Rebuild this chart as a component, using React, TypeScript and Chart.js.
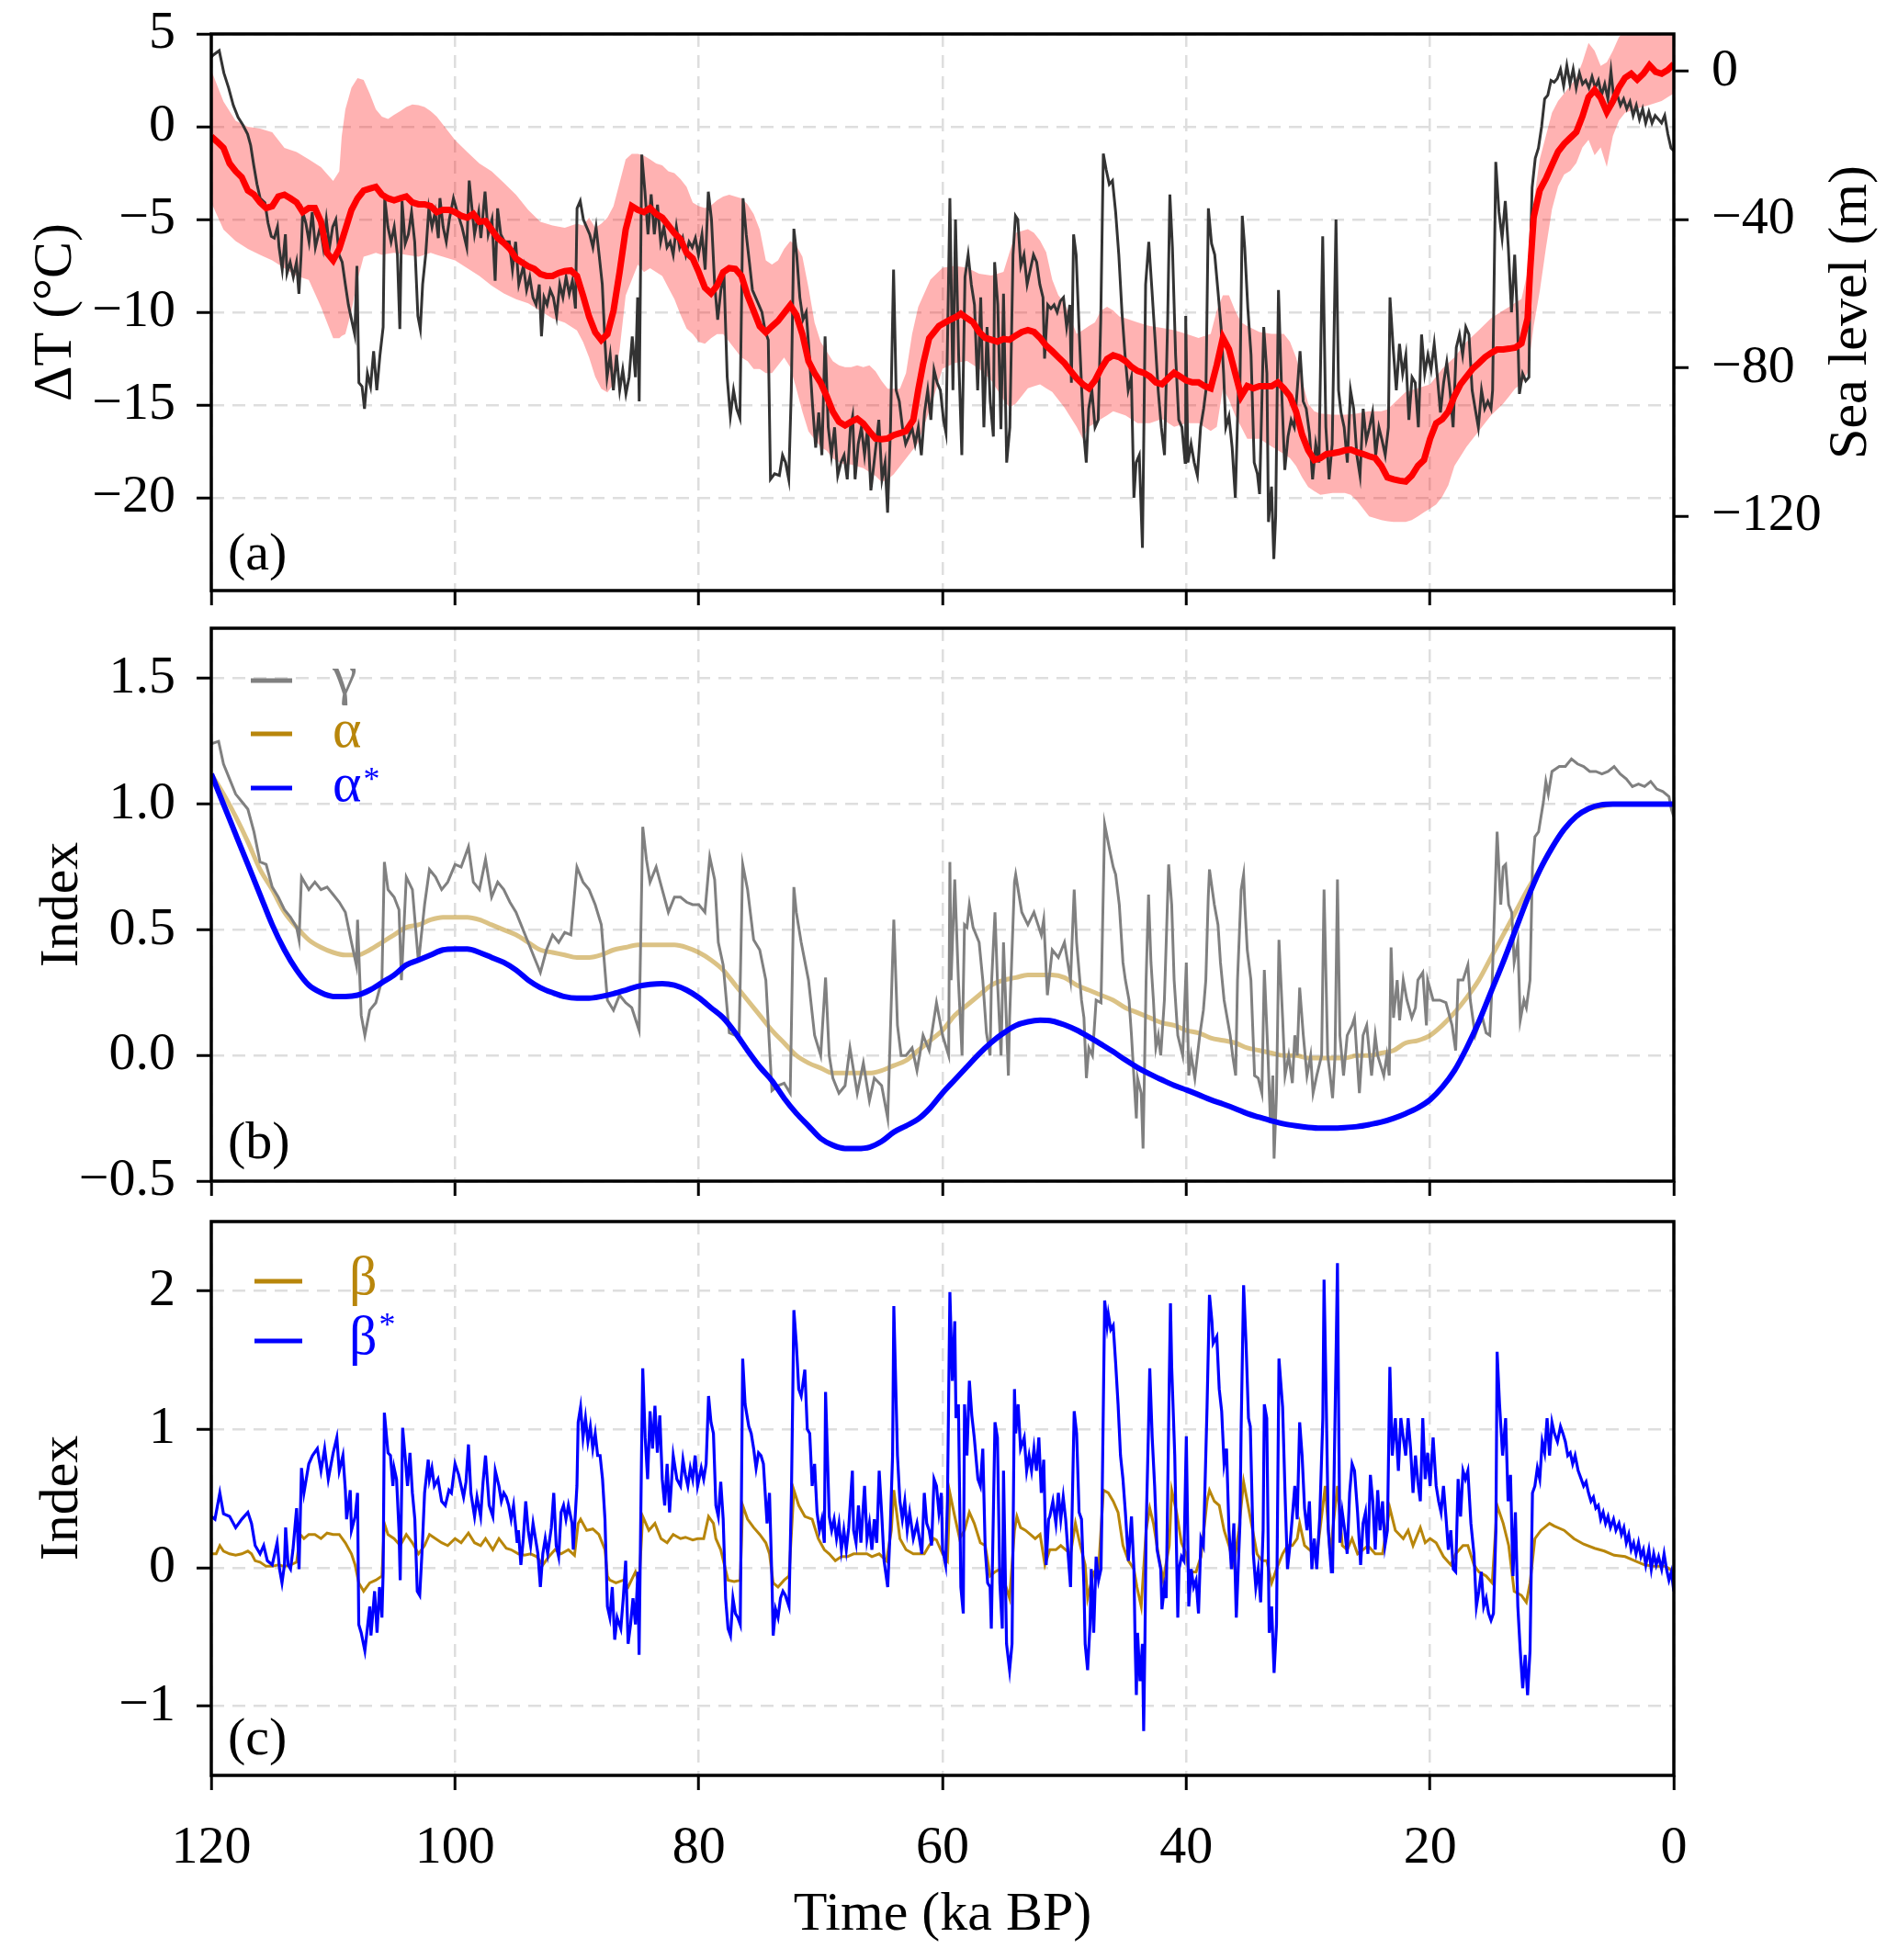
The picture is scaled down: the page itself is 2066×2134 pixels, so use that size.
import { useEffect, useRef } from "react"
import { Chart, registerables } from "chart.js"

Chart.register(...registerables)

const W = 2066
const SERIF = "'Liberation Serif', 'Times New Roman', 'DejaVu Serif', serif"
const GRID = "#dedede"
const DASH = [14, 9]

// tick values
const timeTicks = [120, 100, 80, 60, 40, 20, 0]
const tempTicks = [5, 0, -5, -10, -15, -20]
const seaTicks = [0, -40, -80, -120]
const indexTicksB = [-0.5, 0, 0.5, 1, 1.5]
const indexTicksC = [-1, 0, 1, 2]

// (a) temperature anomaly, [ka BP, °C]
const deltaT = [
  [120, 3.75], [119.87, 3.85], [119.35, 4.1], [118.97, 2.9], [118.58, 2.1], [118.19, 1.15], [117.8, 0.5], [117.41, 0.1],
  [117.02, -0.4], [116.77, -1.0], [116.51, -2.1], [116.25, -3.1], [115.99, -3.85], [115.6, -4.1], [115.34, -5.2], [115.08, -5.9],
  [114.83, -6.0], [114.57, -5.4], [114.44, -6.5], [114.18, -7.7], [113.92, -5.8], [113.79, -7.9], [113.53, -7.3], [113.27, -8.1],
  [113.01, -7.3], [112.81, -9.0], [112.63, -6.9], [112.5, -4.6], [112.24, -5.2], [111.98, -6.2], [111.72, -4.6], [111.46, -6.5],
  [111.07, -5.4], [110.81, -6.5], [110.56, -5.0], [110.3, -6.5], [110.04, -5.4], [109.78, -5.0], [109.52, -6.9], [109.26, -7.3],
  [109.0, -8.5], [108.75, -9.6], [108.49, -10.4], [108.23, -11.2], [108.05, -7.5], [107.89, -13.8], [107.63, -14.0],
  [107.43, -15.2], [107.19, -13.3], [106.93, -14.0], [106.68, -12.1], [106.42, -14.2], [106.16, -12.3], [105.9, -10.8],
  [105.77, -3.85], [105.51, -5.4], [105.25, -6.2], [104.99, -5.4], [104.73, -6.9], [104.53, -10.9], [104.35, -4.0], [104.09, -6.3],
  [103.83, -5.8], [103.57, -4.6], [103.31, -6.2], [103.05, -10.2], [102.85, -10.9], [102.66, -8.5], [102.41, -6.9], [102.15, -4.4],
  [101.89, -5.4], [101.63, -4.6], [101.37, -6.0], [101.24, -3.85], [100.98, -5.4], [100.72, -6.2], [100.47, -5.0], [100.13, -3.85],
  [99.82, -4.6], [99.43, -5.4], [99.04, -6.5], [98.84, -2.9], [98.58, -4.6], [98.4, -5.8], [98.06, -4.6], [97.88, -6.0],
  [97.54, -3.5], [97.28, -5.8], [96.97, -5.0], [96.71, -8.3], [96.51, -4.4], [96.25, -5.8], [95.94, -6.2], [95.55, -6.2],
  [95.29, -7.7], [95.03, -6.2], [94.77, -8.5], [94.39, -7.5], [94.13, -8.8], [93.87, -8.1], [93.61, -9.2], [93.35, -9.6],
  [93.09, -8.5], [92.91, -11.3], [92.7, -9.2], [92.45, -9.6], [92.19, -8.8], [91.93, -9.2], [91.67, -10.2], [91.41, -8.5],
  [91.15, -9.2], [90.89, -8.1], [90.63, -9.0], [90.37, -8.3], [90.12, -9.8], [89.99, -4.4], [89.73, -4.0], [89.47, -5.0],
  [89.21, -5.4], [88.95, -5.8], [88.69, -6.5], [88.43, -5.4], [88.18, -6.9], [87.92, -8.5], [87.71, -11.5], [87.53, -13.5],
  [87.27, -12.3], [87.01, -14.2], [86.75, -12.3], [86.49, -14.2], [86.24, -13.1], [85.98, -14.4], [85.72, -13.5], [85.46, -11.3],
  [85.2, -13.5], [85.02, -9.2], [84.89, -14.8], [84.68, -1.5], [84.42, -3.5], [84.17, -5.8], [83.91, -3.65], [83.65, -5.8],
  [83.39, -4.2], [83.13, -6.2], [82.87, -5.4], [82.61, -6.5], [82.35, -6.2], [82.1, -6.9], [81.84, -5.4], [81.58, -6.5],
  [81.32, -6.0], [81.06, -6.9], [80.8, -6.2], [80.54, -6.5], [80.28, -6.0], [80.03, -6.9], [79.74, -5.8], [79.48, -7.7],
  [79.22, -3.5], [78.96, -5.0], [78.7, -8.5], [78.45, -10.4], [78.19, -8.8], [77.93, -8.1], [77.67, -13.5], [77.41, -15.6],
  [77.15, -14.2], [76.89, -15.2], [76.63, -15.7], [76.37, -3.85], [76.11, -5.8], [75.85, -7.3], [75.6, -8.8], [75.34, -9.2],
  [75.08, -9.6], [74.82, -10.0], [74.56, -11.0], [74.3, -11.5], [74.12, -19.0], [73.78, -18.7], [73.39, -18.8], [73.13, -17.7],
  [72.88, -18.1], [72.62, -19.0], [72.41, -14.2], [72.2, -5.5], [71.97, -6.9], [71.71, -9.2], [71.45, -10.4], [71.19, -10.0],
  [70.93, -12.3], [70.67, -15.0], [70.41, -17.3], [70.16, -15.4], [69.9, -17.7], [69.64, -11.3], [69.38, -16.2], [69.12, -17.7],
  [68.86, -16.2], [68.6, -18.8], [68.34, -18.1], [68.08, -17.7], [67.82, -19.0], [67.56, -16.2], [67.38, -15.6], [67.18, -19.0],
  [66.92, -17.1], [66.66, -16.2], [66.4, -17.7], [66.14, -16.2], [65.88, -19.6], [65.62, -18.1], [65.23, -15.8], [64.97, -19.0],
  [64.72, -18.1], [64.51, -20.8], [64.27, -16.2], [64.02, -7.7], [63.81, -14.2], [63.55, -14.8], [63.29, -16.2], [63.03, -17.1],
  [62.77, -16.7], [62.51, -16.2], [62.25, -17.1], [61.99, -16.2], [61.74, -17.7], [61.48, -15.4], [61.22, -14.2], [60.96, -15.8],
  [60.7, -13.1], [60.44, -13.8], [60.18, -14.2], [59.92, -15.8], [59.72, -16.5], [59.4, -3.85], [59.15, -14.2], [58.94, -5.0],
  [58.68, -12.3], [58.42, -17.7], [58.16, -8.1], [57.9, -6.9], [57.64, -8.5], [57.38, -9.6], [57.12, -14.2], [56.87, -9.2],
  [56.61, -16.2], [56.35, -10.8], [56.09, -14.8], [55.83, -16.7], [55.73, -7.3], [55.47, -9.6], [55.21, -16.3], [55.0, -9.0],
  [54.74, -18.1], [54.48, -16.2], [54.22, -6.9], [54.02, -4.8], [53.83, -5.0], [53.58, -7.5], [53.32, -6.9], [53.06, -8.5],
  [52.8, -7.7], [52.54, -6.9], [52.28, -7.3], [52.02, -8.5], [51.76, -9.2], [51.63, -12.5], [51.37, -9.6], [51.11, -9.8],
  [50.85, -9.6], [50.6, -10.0], [50.34, -9.4], [50.08, -9.2], [49.82, -10.8], [49.56, -9.6], [49.43, -13.8], [49.25, -5.8],
  [49.04, -6.9], [48.78, -11.2], [48.58, -14.2], [48.39, -16.7], [48.21, -18.1], [48.01, -15.2], [47.75, -14.2], [47.49, -16.2],
  [47.23, -15.8], [47.02, -10.4], [46.81, -1.45], [46.58, -2.3], [46.32, -3.1], [46.06, -2.9], [45.8, -4.6], [45.54, -6.9],
  [45.28, -10.0], [45.03, -12.3], [44.77, -14.2], [44.51, -13.5], [44.3, -20.0], [44.12, -18.1], [43.86, -17.7], [43.6, -22.7],
  [43.34, -8.5], [43.08, -6.2], [42.82, -8.8], [42.56, -11.5], [42.31, -14.2], [42.05, -16.2], [41.79, -17.7], [41.53, -10.4],
  [41.35, -3.65], [41.14, -6.5], [40.88, -12.3], [40.62, -15.8], [40.36, -16.2], [40.1, -18.1], [40.05, -10.2], [39.87, -18.1],
  [39.61, -17.1], [39.35, -18.1], [39.09, -18.8], [38.83, -16.2], [38.58, -15.2], [38.39, -14.2], [38.19, -4.4], [37.93, -6.3],
  [37.67, -6.9], [37.41, -8.8], [37.15, -10.8], [36.94, -13.3], [36.76, -16.2], [36.5, -15.6], [36.24, -17.3], [35.98, -20.0],
  [35.73, -14.2], [35.6, -14.0], [35.41, -4.8], [35.21, -6.5], [34.95, -9.8], [34.69, -12.3], [34.43, -18.1], [34.17, -18.7],
  [33.99, -19.8], [33.65, -10.8], [33.39, -13.3], [33.26, -21.3], [33.01, -19.4], [32.82, -23.3], [32.67, -21.0], [32.44, -8.8],
  [32.18, -14.2], [31.92, -18.5], [31.66, -16.7], [31.4, -15.8], [31.14, -16.2], [30.88, -14.0], [30.67, -12.1], [30.41, -14.8],
  [30.16, -15.2], [29.9, -16.5], [29.64, -19.0], [29.38, -17.1], [29.12, -18.1], [28.81, -5.9], [28.55, -16.2], [28.29, -19.0],
  [28.03, -17.1], [27.72, -5.0], [27.51, -14.2], [27.31, -15.4], [27.05, -16.2], [26.79, -18.1], [26.53, -14.2], [26.27, -15.2],
  [26.01, -17.7], [25.75, -18.8], [25.49, -15.2], [25.23, -16.9], [24.97, -16.2], [24.72, -15.4], [24.46, -17.7], [24.2, -16.2],
  [23.94, -16.9], [23.68, -17.7], [23.42, -16.2], [23.29, -9.2], [23.03, -11.9], [22.77, -14.2], [22.51, -11.7], [22.25, -13.3],
  [21.99, -12.3], [21.74, -15.8], [21.48, -13.5], [21.22, -13.8], [20.96, -16.2], [20.7, -11.2], [20.44, -13.3], [20.18, -12.3],
  [19.92, -13.1], [19.66, -11.7], [19.4, -13.5], [19.15, -15.4], [18.89, -13.8], [18.63, -12.7], [18.37, -14.2], [18.11, -16.2],
  [17.85, -11.9], [17.59, -11.2], [17.33, -12.3], [17.07, -10.8], [16.81, -11.2], [16.55, -14.2], [16.3, -15.2], [16.04, -16.2],
  [15.78, -14.2], [15.52, -15.2], [15.26, -14.8], [15.0, -15.2], [14.87, -14.2], [14.61, -1.9], [14.35, -4.6], [14.09, -6.0],
  [13.83, -4.0], [13.58, -6.5], [13.32, -10.0], [13.06, -6.9], [12.85, -10.0], [12.67, -14.4], [12.41, -13.3], [12.15, -13.7],
  [11.89, -13.5], [11.76, -6.5], [11.63, -3.3], [11.37, -1.7], [11.11, -1.15], [10.85, 0.0], [10.6, 1.5], [10.34, 1.7],
  [10.08, 2.5], [9.82, 2.4], [9.56, 2.6], [9.3, 3.1], [9.04, 2.2], [8.78, 3.3], [8.52, 2.3], [8.26, 3.1], [8.01, 2.1], [7.75, 2.9],
  [7.49, 2.3], [7.23, 2.5], [6.97, 2.1], [6.71, 2.7], [6.45, 2.1], [6.19, 2.5], [5.93, 1.7], [5.67, 2.3], [5.41, 1.5], [5.16, 3.0],
  [4.9, 1.35], [4.64, 1.7], [4.38, 1.15], [4.12, 1.5], [3.86, 0.96], [3.6, 1.35], [3.34, 0.6], [3.08, 1.15], [2.82, 0.4],
  [2.56, 0.96], [2.31, 0.2], [2.05, 0.8], [1.79, 0.2], [1.53, 0.6], [1.26, 0.4], [1.01, 0.2], [0.75, 0.6], [0.49, -0.4],
  [0.23, -1.15], [0, -1.3],
]

// (a) sea level, [ka BP, m]
const seaLevel = [
  [120, -17.6], [119.5, -19.1], [119, -20.7], [118.5, -24.9], [118, -27.0], [117.5, -28.6], [117, -32.2], [116.5, -33.3],
  [116, -35.4], [115.5, -36.9], [115, -36.4], [114.5, -33.8], [114, -33.3], [113.5, -34.3], [113, -35.4], [112.5, -38.0],
  [112, -36.9], [111.5, -36.9], [111, -40.6], [110.5, -49.0], [110, -51.0], [109.5, -47.9], [109, -42.7], [108.5, -37.4],
  [108, -34.3], [107.5, -32.2], [107, -31.7], [106.5, -31.2], [106, -33.3], [105.5, -34.3], [105, -34.8], [104.5, -34.3],
  [104, -33.8], [103.5, -35.4], [103, -35.9], [102.5, -35.9], [102, -36.4], [101.5, -38.0], [101, -37.4], [100.5, -37.4],
  [100, -38.0], [99.5, -39.0], [99, -39.5], [98.5, -38.5], [98, -40.6], [97.5, -40.4], [97, -42.7], [96.5, -45.0], [96, -46.3],
  [95.5, -47.9], [95, -50.5], [94.5, -51.6], [94, -52.6], [93.5, -53.3], [93, -54.7], [92.5, -55.2], [92, -55.2], [91.5, -54.4],
  [91, -53.9], [90.5, -53.7], [90, -55.2], [89.5, -60.5], [89, -66.2], [88.5, -70.4], [88, -72.5], [87.5, -70.9], [87, -64.6],
  [86.5, -54.2], [86, -42.7], [85.5, -36.4], [85, -37.4], [84.5, -38.0], [84, -36.9], [83.5, -38.5], [83, -39.5], [82.5, -41.6],
  [82, -43.7], [81.5, -45.3], [81, -49.0], [80.5, -50.5], [80, -54.2], [79.5, -58.4], [79, -59.9], [78.5, -57.8], [78, -54.2],
  [77.5, -53.1], [77, -53.3], [76.5, -55.2], [76, -60.5], [75.5, -64.6], [75, -68.8], [74.5, -70.4], [74, -68.8], [73.5, -67.3],
  [73, -65.2], [72.5, -63.1], [72, -65.7], [71.5, -70.9], [71, -78.2], [70.5, -81.4], [70, -84.0], [69.5, -87.7], [69, -91.8],
  [68.5, -94.5], [68, -95.5], [67.5, -94.5], [67, -93.7], [66.5, -95.0], [66, -97.1], [65.5, -99.0], [65, -99.2], [64.5, -99.0],
  [64, -98.1], [63.5, -97.6], [63, -97.0], [62.4, -94.0], [62, -86.0], [61.6, -79.0], [61.1, -72.0], [60.3, -68.7], [59.5, -67.2],
  [58.8, -66.1], [58.5, -65.4], [58, -66.6], [57.5, -67.7], [57, -70.3], [56.5, -71.9], [56, -72.4], [55.5, -72.9], [55, -72.2],
  [54.5, -72.4], [54, -71.3], [53.5, -70.3], [53, -69.8], [52.5, -70.3], [52, -71.9], [51.5, -74.0], [51, -75.5], [50.5, -77.1],
  [50, -78.7], [49.5, -80.8], [49, -82.8], [48.5, -84.4], [48, -85.5], [47.5, -83.4], [47, -80.2], [46.5, -77.6], [46, -76.6],
  [45.5, -77.1], [45, -78.1], [44.5, -79.7], [44, -80.8], [43.5, -81.3], [43, -82.3], [42.5, -83.9], [42, -84.4], [41.5, -82.8],
  [41, -81.3], [40.5, -82.3], [40, -83.4], [39.5, -83.9], [39, -83.9], [38.5, -84.9], [38, -85.5], [37.5, -79.2], [37, -71.9],
  [36.5, -75.0], [36, -81.3], [35.5, -87.6], [35, -84.9], [34.5, -85.5], [34, -84.9], [33.5, -84.9], [33, -84.9], [32.5, -83.9],
  [32, -85.5], [31.5, -87.6], [31, -91.7], [30.5, -98.0], [30, -102.2], [29.5, -104.8], [29, -104.3], [28.5, -103.2],
  [28, -103.0], [27.5, -102.7], [27, -102.2], [26.5, -102.0], [26, -102.7], [25.5, -103.2], [25, -103.8], [24.5, -104.3],
  [24, -106.4], [23.5, -109.5], [23, -110.0], [22.5, -110.4], [22, -110.6], [21.5, -109.0], [21, -106.4], [20.5, -104.8],
  [20, -99.1], [19.5, -94.9], [19, -93.8], [18.5, -91.7], [18, -87.6], [17.5, -84.4], [17, -82.3], [16.5, -80.2], [16, -78.7],
  [15.5, -77.1], [15, -76.0], [14.5, -75.0], [14, -75.0], [13.5, -74.8], [13, -74.5], [12.5, -73.4], [12, -66.6], [11.8, -54.1],
  [11.5, -39.4], [11, -32.1], [10.5, -29.0], [10, -25.3], [9.5, -21.7], [9, -19.6], [8.5, -18.0], [8, -16.4], [7.5, -12.2],
  [7, -7.0], [6.5, -5.1], [6, -7.2], [5.5, -11.0], [5, -8.1], [4.5, -4.4], [4, -1.8], [3.5, -0.7], [3, -2.3], [2.5, -0.7],
  [2, 1.6], [1.5, -0.2], [1, -0.7], [0.5, 0.3], [0, 1.9],
]

// (a) sea-level uncertainty, [ka BP, upper m, lower m]
const seaBand = [
  [120, 0.2, -35.4], [119, -8.2, -42.7], [118, -13.4, -45.8], [117, -15.0, -47.9], [116, -15.5, -49.5], [115, -16.5, -51.0],
  [114, -20.7, -53.1], [113, -21.8, -55.2], [112, -23.8, -56.3], [111, -25.9, -63.6], [110, -29.6, -72.0], [109.5, -27.0, -72.0],
  [109.3, -17.6, -71.4], [109, -10.3, -70.9], [108.5, -4.5, -64.6], [108, -1.9, -56.3], [107.5, -2.4, -50.0], [107, -6.1, -49.5],
  [106.5, -10.3, -49.0], [106, -12.3, -49.5], [105.5, -12.9, -49.2], [105, -11.8, -49.0], [104.5, -10.8, -49.2], [104, -9.7, -49.5],
  [103.5, -9.0, -49.8], [103, -9.2, -50.0], [102.5, -9.7, -49.5], [102, -10.8, -49.0], [101.5, -12.3, -49.5], [101, -14.4, -50.0],
  [100.5, -16.5, -50.5], [100, -18.6, -51.0], [99, -21.8, -53.1], [98, -24.9, -55.2], [97, -27.0, -57.8], [96, -30.1, -59.9],
  [95, -33.3, -61.5], [94, -37.4, -62.6], [93, -40.6, -64.6], [92, -41.6, -66.7], [91, -42.2, -67.8], [90, -41.1, -69.9],
  [89.5, -41.6, -73.0], [89, -39.5, -77.2], [88.5, -42.2, -82.4], [88, -41.1, -85.6], [87.5, -39.5, -86.6], [87, -36.4, -84.5],
  [86.5, -30.1, -75.1], [86, -23.8, -60.5], [85.5, -22.3, -56.3], [85, -22.3, -52.1], [84.5, -22.8, -54.2], [84, -23.8, -53.1],
  [83.5, -24.9, -54.2], [83, -25.4, -55.2], [82.5, -27.0, -58.4], [82, -27.5, -61.5], [81.5, -29.1, -65.7], [81, -31.2, -69.4],
  [80.5, -35.4, -70.9], [80, -36.4, -73.0], [79.5, -36.9, -73.5], [79, -36.2, -72.0], [78.5, -34.8, -70.9], [78, -33.8, -70.9],
  [77.5, -33.3, -73.0], [77, -33.8, -75.1], [76.5, -34.3, -77.2], [76, -35.9, -78.2], [75.5, -38.5, -80.3], [75, -42.7, -80.3],
  [74.5, -51.0, -81.4], [74, -52.1, -81.4], [73.5, -51.0, -79.3], [73, -47.9, -77.2], [72.5, -45.8, -79.8], [72, -46.9, -85.6],
  [71.5, -50.0, -91.8], [71, -58.4, -97.1], [70.5, -67.8, -99.2], [70, -73.0, -101.3], [69.5, -75.6, -102.3], [69, -78.2, -104.4],
  [68.5, -79.3, -105.4], [68, -79.8, -106.0], [67.5, -79.8, -106.0], [67, -79.3, -106.5], [66.5, -79.8, -107.0], [66, -79.3, -108.1],
  [65.5, -80.9, -109.1], [65, -83.5, -110.7], [64.5, -85.6, -110.1], [64, -85.6, -108.6], [63.5, -85.6, -106.5], [63, -81.4, -104.4],
  [62.5, -70.9, -102.3], [62, -63.6, -100.2], [61, -56.2, -90.7], [60, -53.0, -80.2], [59, -52.5, -78.7], [58, -53.0, -78.1],
  [57, -54.6, -80.2], [56, -55.1, -83.4], [55, -54.1, -88.6], [54.5, -48.8, -90.7], [54, -43.6, -89.6], [53, -42.6, -85.5],
  [52.5, -43.6, -84.9], [52, -45.7, -84.4], [51.5, -48.8, -85.5], [51, -56.2, -86.5], [50.5, -60.4, -88.6], [50, -62.4, -90.7],
  [49.5, -66.6, -93.3], [49, -70.8, -95.9], [48.5, -69.8, -99.1], [48, -68.7, -95.9], [47.5, -67.7, -94.9], [47, -64.5, -93.8],
  [46.5, -63.5, -92.8], [46, -64.5, -91.7], [45.5, -66.1, -92.2], [45, -66.6, -92.8], [44, -67.7, -94.9], [43, -68.7, -94.9],
  [42, -69.2, -93.8], [41, -69.8, -95.9], [40, -70.8, -94.9], [39, -71.9, -94.9], [38, -70.8, -97.0], [37.5, -64.5, -95.9],
  [37, -60.4, -85.5], [36.5, -60.4, -88.6], [36, -64.5, -92.8], [35.5, -67.7, -95.9], [35, -68.7, -99.1], [34, -70.3, -99.1],
  [33, -70.8, -101.2], [32, -70.8, -103.2], [31.5, -72.9, -104.3], [31, -77.1, -106.4], [30.5, -83.4, -109.5], [30, -89.6, -112.1],
  [29.5, -91.7, -113.2], [29, -92.3, -114.2], [28, -92.6, -113.7], [27, -92.6, -113.7], [26.5, -92.5, -114.2], [26, -92.3, -115.8],
  [25.5, -91.9, -117.9], [25, -91.7, -120.0], [24, -91.7, -121.0], [23.5, -91.2, -121.3], [23, -89.6, -121.5], [22, -86.5, -121.5],
  [21.5, -86.0, -121.0], [21, -85.5, -120.0], [20.5, -84.9, -118.9], [20, -84.4, -117.9], [19.5, -82.3, -116.8], [19, -80.2, -114.7],
  [18.5, -78.7, -111.6], [18, -77.1, -106.4], [17, -72.9, -101.2], [16, -69.8, -97.0], [15, -66.6, -92.8], [14, -64.5, -89.6],
  [13.5, -63.5, -87.6], [13, -62.4, -85.5], [12.5, -61.4, -84.4], [12, -54.1, -81.3], [11.5, -35.3, -68.7], [11, -23.7, -59.3],
  [10.5, -17.5, -47.8], [10, -11.2, -37.3], [9.5, -8.1, -31.1], [9, -6.0, -27.9], [8.5, -3.9, -26.9], [8, -1.8, -24.8],
  [7.5, 2.4, -20.6], [7, 7.6, -18.5], [6.5, 5.5, -22.7], [6, 1.4, -20.6], [5.5, 2.4, -25.8], [5, 5.5, -17.5], [4.5, 9.2, -13.3],
  [4, 11, -11.2], [3, 11, -10.1], [2, 11, -9.1], [1, 11, -8.1], [0.5, 11, -7.0], [0, 11, -6.0],
]

// (b) gamma index
const gamma = [
  [120, 1.24], [119.4, 1.25], [119, 1.16], [118.5, 1.1], [118, 1.04], [117.5, 1.01], [117, 0.98], [116.5, 0.89], [116, 0.77],
  [115.5, 0.76], [115, 0.67], [114.5, 0.63], [114, 0.58], [113.5, 0.55], [113, 0.51], [112.8, 0.46], [112.6, 0.71], [112, 0.66],
  [111.5, 0.69], [111, 0.66], [110.5, 0.67], [110, 0.64], [109.5, 0.61], [109, 0.57], [108.5, 0.45], [108.1, 0.36], [108, 0.54],
  [107.7, 0.16], [107.4, 0.08], [107, 0.18], [106.5, 0.21], [106, 0.3], [105.8, 0.77], [105.5, 0.66], [105, 0.63], [104.6, 0.58],
  [104.4, 0.3], [104, 0.71], [103.5, 0.66], [103, 0.37], [102.5, 0.6], [102.1, 0.74], [101.6, 0.71], [101.1, 0.66], [100.6, 0.69],
  [100, 0.76], [99.5, 0.75], [98.9, 0.83], [98.5, 0.69], [98, 0.66], [97.5, 0.78], [97, 0.63], [96.5, 0.69], [96, 0.66],
  [95.5, 0.61], [95, 0.57], [94.5, 0.51], [94, 0.45], [93.5, 0.39], [93, 0.33], [92.5, 0.42], [92, 0.48], [91.5, 0.45], [91, 0.49],
  [90.5, 0.48], [90, 0.75], [89.5, 0.69], [89, 0.66], [88.5, 0.6], [88, 0.52], [87.5, 0.22], [87, 0.18], [86.5, 0.24], [86, 0.21],
  [85.5, 0.19], [84.9, 0.1], [84.6, 0.91], [84.3, 0.78], [84, 0.69], [83.5, 0.75], [83, 0.66], [82.5, 0.57], [82, 0.63],
  [81.5, 0.63], [81, 0.61], [80.5, 0.6], [80, 0.6], [79.5, 0.57], [79.1, 0.79], [78.7, 0.7], [78.4, 0.45], [78, 0.36], [77.5, 0.09],
  [77, 0.08], [76.7, 0.06], [76.4, 0.76], [76, 0.66], [75.5, 0.46], [75, 0.42], [74.5, 0.3], [74, -0.14], [73.5, -0.12],
  [73, -0.11], [72.5, -0.15], [72.2, 0.67], [72, 0.57], [71.6, 0.45], [71, 0.3], [70.5, 0.08], [70, 0.0], [69.6, 0.31],
  [69.3, 0.0], [69, -0.09], [68.5, -0.15], [68, -0.12], [67.6, 0.03], [67, -0.15], [66.5, -0.03], [66, -0.18], [65.6, -0.09],
  [65, -0.12], [64.5, -0.25], [64, 0.54], [63.7, 0.12], [63.4, 0.0], [63, 0.0], [62.5, 0.03], [62.1, -0.06], [61.6, 0.08],
  [61.1, 0.02], [60.5, 0.21], [60, 0.08], [59.5, 0.0], [59.4, 0.77], [59.3, 0.3], [59, 0.7], [58.7, 0.3], [58.4, 0.0], [58.2, 0.52],
  [58, 0.51], [57.8, 0.6], [57.5, 0.51], [57, 0.45], [56.7, 0.3], [56.4, 0.09], [56.1, 0.0], [56, 0.27], [55.7, 0.57], [55.5, 0.3],
  [55.2, 0.0], [55, 0.45], [54.6, -0.08], [54.5, 0.15], [54.1, 0.69], [54, 0.72], [53.5, 0.57], [53, 0.52], [52.5, 0.57],
  [51.9, 0.48], [51.7, 0.54], [51.4, 0.24], [51, 0.42], [50.5, 0.39], [50, 0.45], [49.5, 0.3], [49.2, 0.66], [49, 0.45],
  [48.6, 0.22], [48.4, 0.15], [48.2, -0.09], [48, 0.03], [47.7, 0.0], [47.4, 0.22], [47, 0.21], [46.7, 0.92], [46.5, 0.87],
  [46.3, 0.82], [46, 0.75], [45.8, 0.72], [45.5, 0.6], [45.2, 0.37], [45, 0.3], [44.7, 0.22], [44.5, 0.08], [44.1, -0.25],
  [44, -0.09], [43.7, -0.15], [43.55, -0.37], [43.3, 0.3], [43.1, 0.64], [42.9, 0.37], [42.7, 0.22], [42.5, 0.03], [42.3, 0.08],
  [42.1, 0.0], [41.8, 0.22], [41.65, 0.45], [41.45, 0.76], [41.2, 0.6], [41, 0.3], [40.7, 0.08], [40.3, 0.0], [40, 0.37],
  [39.8, -0.08], [39.6, 0.0], [39.3, -0.09], [38.9, 0.08], [38.6, 0.18], [38.4, 0.3], [38.2, 0.63], [38.1, 0.74], [37.7, 0.6],
  [37.4, 0.52], [37.2, 0.37], [36.9, 0.22], [36.4, 0.08], [36.2, 0.0], [35.95, -0.08], [35.8, 0.3], [35.5, 0.66], [35.3, 0.72],
  [35.2, 0.6], [35, 0.42], [34.7, 0.3], [34.4, -0.08], [34.1, -0.09], [33.8, -0.15], [33.6, 0.34], [33.3, 0.0], [33.1, -0.27],
  [32.9, -0.08], [32.8, -0.41], [32.6, -0.15], [32.4, 0.46], [32.1, 0.15], [31.9, -0.08], [31.6, 0.0], [31.3, -0.11], [31.1, 0.08],
  [30.9, 0.0], [30.7, 0.27], [30.4, 0.08], [30.1, -0.08], [29.8, 0.0], [29.6, -0.15], [29.3, -0.08], [28.9, 0.0], [28.7, 0.66],
  [28.4, 0.0], [28.2, -0.08], [28, -0.17], [27.8, 0.0], [27.6, 0.7], [27.4, 0.08], [27.1, -0.08], [26.8, 0.08], [26.4, 0.12],
  [26.2, 0.15], [25.8, -0.15], [25.5, 0.08], [25.2, 0.12], [24.8, -0.08], [24.5, 0.08], [24.3, 0.0], [23.8, -0.08], [23.55, 0.0],
  [23.35, -0.08], [23.2, 0.43], [23, 0.15], [22.7, 0.3], [22.5, 0.14], [22.2, 0.3], [21.9, 0.22], [21.5, 0.15], [21.2, 0.19],
  [21, 0.3], [20.6, 0.33], [20.3, 0.12], [20.2, 0.3], [19.75, 0.22], [19.2, 0.22], [18.7, 0.21], [18.2, 0.12], [17.9, 0.02],
  [17.7, 0.3], [17.3, 0.3], [16.9, 0.36], [16.7, 0.22], [16.3, 0.08], [16, 0.12], [15.7, 0.15], [15.4, 0.09], [15.1, 0.08],
  [14.9, 0.3], [14.7, 0.6], [14.5, 0.89], [14.2, 0.6], [14, 0.75], [13.8, 0.76], [13.55, 0.6], [13.3, 0.57], [13.1, 0.37],
  [12.8, 0.45], [12.6, 0.14], [12.3, 0.22], [12.1, 0.19], [11.8, 0.3], [11.6, 0.75], [11.4, 0.87], [11.1, 0.89], [10.7, 1.01],
  [10.5, 1.09], [10.3, 1.04], [10, 1.13], [9.4, 1.15], [8.9, 1.15], [8.4, 1.18], [7.9, 1.16], [7.4, 1.15], [6.9, 1.13], [6.4, 1.13],
  [5.9, 1.12], [5.4, 1.13], [4.9, 1.15], [4.4, 1.12], [3.9, 1.1], [3.4, 1.07], [2.9, 1.08], [2.4, 1.07], [1.9, 1.09], [1.4, 1.06],
  [0.9, 1.05], [0.4, 1.03], [0.2, 0.98], [0, 0.95],
]

// (b) alpha and alpha* indices
const alpha = [
  [120, 1.12], [119, 1.04], [118, 0.95], [117, 0.85], [116, 0.74], [115, 0.66], [114, 0.57], [113, 0.51], [112, 0.46],
  [111, 0.43], [110, 0.41], [109, 0.4], [108, 0.4], [107, 0.42], [106, 0.45], [105, 0.48], [104, 0.51], [103, 0.52], [102, 0.54],
  [101, 0.55], [100, 0.55], [99, 0.55], [98, 0.54], [97, 0.52], [96, 0.5], [95, 0.48], [94, 0.45], [93, 0.42], [92, 0.41],
  [91, 0.4], [90, 0.39], [89, 0.39], [88, 0.4], [87, 0.42], [86, 0.43], [85, 0.44], [84, 0.44], [83, 0.44], [82, 0.44], [81, 0.43],
  [80, 0.41], [79, 0.38], [78, 0.34], [77, 0.28], [76, 0.22], [75, 0.16], [74, 0.1], [73, 0.05], [72, 0.0], [71, -0.03],
  [70, -0.05], [69, -0.07], [68, -0.07], [67, -0.07], [66, -0.07], [65, -0.06], [64, -0.04], [63, -0.02], [62, 0.02], [61, 0.06],
  [60, 0.1], [59, 0.16], [58, 0.2], [57, 0.24], [56, 0.28], [55, 0.3], [54, 0.31], [53, 0.32], [52, 0.32], [51, 0.32], [50, 0.31],
  [49, 0.28], [48, 0.26], [47, 0.24], [46, 0.22], [45, 0.19], [44, 0.17], [43, 0.15], [42, 0.13], [41, 0.12], [40, 0.1], [39, 0.09],
  [38, 0.07], [37, 0.06], [36, 0.05], [35, 0.03], [34, 0.02], [33, 0.01], [32, 0.0], [31, 0.0], [30, -0.01], [29, -0.01],
  [28, -0.01], [27, -0.01], [26, 0.0], [25, 0.0], [24, 0.01], [23, 0.02], [22, 0.05], [21, 0.06], [20, 0.08], [19, 0.12],
  [18, 0.17], [17, 0.23], [16, 0.3], [15, 0.39], [14, 0.48], [13, 0.57], [12, 0.66], [11, 0.74], [10, 0.83], [9, 0.9], [8, 0.95],
  [7, 0.98], [6, 0.99], [5, 1.0], [4, 1.0], [2, 1.0], [0, 1.0],
]

const alphaStar = [
  [120, 1.12], [119, 1.0], [118, 0.88], [117, 0.76], [116, 0.64], [115, 0.52], [114, 0.42], [113, 0.34], [112, 0.28], [111, 0.25],
  [110, 0.235], [109, 0.235], [108, 0.24], [107, 0.26], [106, 0.29], [105, 0.32], [104, 0.36], [103, 0.38], [102, 0.4], [101, 0.42],
  [100, 0.424], [99, 0.424], [98, 0.41], [97, 0.39], [96, 0.37], [95, 0.34], [94, 0.3], [93, 0.27], [92, 0.25], [91, 0.234],
  [90, 0.228], [89, 0.228], [88, 0.235], [87, 0.246], [86, 0.26], [85, 0.275], [84, 0.283], [83, 0.286], [82, 0.28], [81, 0.26],
  [80, 0.23], [79, 0.19], [78, 0.15], [77, 0.09], [76, 0.02], [75, -0.045], [74, -0.1], [73, -0.17], [72, -0.23], [71, -0.28],
  [70, -0.33], [69, -0.357], [68, -0.37], [67, -0.37], [66, -0.365], [65, -0.342], [64, -0.305], [63, -0.28], [62, -0.253],
  [61, -0.208], [60, -0.149], [59, -0.097], [58, -0.045], [57, 0.007], [56, 0.052], [55, 0.089], [54, 0.119], [53, 0.134],
  [52, 0.14], [51, 0.137], [50, 0.122], [49, 0.101], [48, 0.074], [47, 0.045], [46, 0.015], [45, -0.018], [44, -0.048],
  [43, -0.074], [42, -0.097], [41, -0.119], [40, -0.137], [39, -0.156], [38, -0.176], [37, -0.193], [36, -0.211], [35, -0.231],
  [34, -0.246], [33, -0.26], [32, -0.272], [31, -0.28], [30, -0.286], [29, -0.289], [28, -0.289], [27, -0.287], [26, -0.283],
  [25, -0.275], [24, -0.265], [23, -0.25], [22, -0.231], [21, -0.208], [20, -0.176], [19, -0.126], [18, -0.06], [17, 0.03],
  [16, 0.134], [15, 0.253], [14, 0.372], [13, 0.499], [12, 0.625], [11, 0.737], [10, 0.826], [9, 0.9], [8, 0.952], [7, 0.982],
  [6, 0.997], [5, 1.0], [2, 1.0], [0, 1.0],
]

// (c) beta and beta* indices
const beta = [
  [120, 0.1], [119.6, 0.1], [119.3, 0.16], [119, 0.12], [118.5, 0.1], [118, 0.09], [117.5, 0.1], [117, 0.12], [116.7, 0.1],
  [116.4, 0.05], [116, 0.04], [115.5, 0.01], [115, 0.01], [114.5, 0.02], [114, 0.01], [113.5, 0.02], [113, 0.04], [112.7, 0.24],
  [112.4, 0.21], [112, 0.24], [111.5, 0.24], [111, 0.21], [110.5, 0.25], [110, 0.24], [109.5, 0.24], [109, 0.18], [108.5, 0.1],
  [108.2, 0.02], [107.9, -0.11], [107.5, -0.17], [107, -0.11], [106.5, -0.09], [106, -0.06], [105.8, 0.32], [105.5, 0.24],
  [105, 0.21], [104.5, 0.16], [104, 0.24], [103.5, 0.18], [103, 0.1], [102.5, 0.16], [102.1, 0.24], [101.6, 0.21], [101.1, 0.18],
  [100.6, 0.16], [100, 0.21], [99.5, 0.18], [98.9, 0.25], [98.4, 0.18], [97.9, 0.16], [97.5, 0.21], [96.9, 0.13], [96.4, 0.21],
  [95.8, 0.14], [95.4, 0.13], [94.8, 0.1], [94.3, 0.09], [93.8, 0.1], [93.3, 0.08], [92.8, 0.02], [92.3, 0.08], [91.8, 0.13],
  [91.3, 0.1], [90.7, 0.13], [90.2, 0.09], [89.9, 0.32], [89.7, 0.35], [89.2, 0.27], [88.7, 0.28], [88.2, 0.24], [87.7, 0.13],
  [87.5, -0.06], [87.3, -0.09], [86.8, -0.11], [86.2, -0.09], [85.8, -0.14], [85.2, -0.03], [84.9, -0.11], [84.6, 0.37],
  [84.1, 0.27], [83.6, 0.32], [83.1, 0.21], [82.6, 0.18], [82.1, 0.24], [81.5, 0.21], [81.1, 0.22], [80.5, 0.2], [80.1, 0.21],
  [79.6, 0.21], [79.2, 0.37], [78.8, 0.32], [78.6, 0.21], [78.2, 0.13], [77.9, 0.02], [77.6, -0.09], [77.1, -0.1], [76.6, -0.09],
  [76.4, 0.45], [76, 0.35], [75.5, 0.29], [75, 0.24], [74.5, 0.18], [74.2, 0.1], [73.9, -0.11], [73.5, -0.14], [73, -0.09],
  [72.6, -0.06], [72.2, 0.56], [71.8, 0.45], [71.3, 0.37], [70.7, 0.35], [70.2, 0.21], [69.7, 0.13], [69.3, 0.1], [68.8, 0.05],
  [68.3, 0.08], [67.8, 0.08], [67.3, 0.1], [66.8, 0.1], [66.2, 0.1], [65.8, 0.08], [65.2, 0.1], [64.6, 0.05], [64.2, 0.27],
  [64, 0.56], [63.5, 0.21], [63, 0.13], [62.4, 0.1], [61.5, 0.1], [61.1, 0.16], [60.7, 0.21], [60.5, 0.2], [60, 0.1], [59.6, 0.05],
  [59.4, 0.54], [59, 0.37], [58.6, 0.21], [58.2, 0.27], [57.8, 0.4], [57.4, 0.32], [56.9, 0.18], [56.5, 0.16], [56.1, -0.06],
  [55.7, -0.03], [55.3, -0.01], [54.9, -0.11], [54.5, -0.22], [54.1, 0.27], [53.9, 0.37], [53.6, 0.29], [53.2, 0.27], [52.8, 0.24],
  [52.4, 0.21], [52, 0.24], [51.6, 0.02], [51.2, 0.13], [50.7, 0.13], [50.3, 0.16], [49.9, 0.13], [49.5, 0.1], [49.1, 0.32],
  [48.7, 0.16], [48.3, 0.02], [48.1, -0.22], [47.6, -0.03], [47.2, -0.01], [46.8, 0.56], [46.4, 0.54], [46, 0.48], [45.6, 0.4],
  [45.2, 0.16], [44.75, 0.05], [44.3, -0.01], [44.05, -0.14], [43.7, -0.28], [43.3, 0.27], [43, 0.43], [42.7, 0.32], [42.3, 0.1],
  [41.9, -0.09], [41.4, 0.16], [41.2, 0.56], [40.8, 0.4], [40.4, 0.18], [40, 0.1], [39.8, -0.03], [39.2, -0.03], [38.8, 0.08],
  [38.3, 0.48], [38.1, 0.56], [37.7, 0.48], [37.3, 0.45], [36.9, 0.27], [36.5, 0.16], [36.1, 0.02], [35.7, 0.27], [35.3, 0.62],
  [35, 0.48], [34.6, 0.29], [34.2, 0.1], [33.8, 0.05], [33.4, 0.05], [33, -0.11], [32.6, -0.01], [32.1, 0.1], [31.7, 0.16],
  [31.3, 0.16], [30.9, 0.21], [30.7, 0.32], [30.3, 0.16], [29.9, 0.13], [29.3, 0.08], [28.6, 0.59], [28.2, 0.1], [27.6, 0.59],
  [27.2, 0.16], [26.8, 0.13], [26.4, 0.21], [25.95, 0.1], [25.5, 0.13], [25.1, 0.16], [24.5, 0.1], [23.9, 0.1], [23.3, 0.43],
  [22.85, 0.27], [22.2, 0.21], [21.8, 0.27], [21.4, 0.16], [20.8, 0.29], [20.4, 0.18], [20, 0.21], [19.5, 0.18], [18.9, 0.08],
  [18.3, 0.02], [17.9, 0.1], [17.3, 0.16], [16.9, 0.16], [16.4, 0.02], [16, -0.03], [15.4, -0.06], [14.9, -0.11], [14.5, 0.45],
  [14, 0.32], [13.55, 0.16], [13.1, -0.17], [12.5, -0.2], [12.1, -0.25], [11.8, -0.11], [11.4, 0.21], [10.9, 0.27], [10.2, 0.32],
  [9.8, 0.3], [9, 0.27], [8.2, 0.21], [7.4, 0.17], [6.5, 0.14], [5.7, 0.12], [4.9, 0.09], [4, 0.08], [3.2, 0.05], [2.4, 0.02],
  [1.6, 0.01], [0.7, 0.01], [0, -0.03],
]

const betaStar = [
  [120, 0.37], [119.7, 0.35], [119.3, 0.54], [119, 0.39], [118.5, 0.37], [118, 0.29], [117.5, 0.35], [117, 0.4], [116.7, 0.32],
  [116.4, 0.16], [116, 0.1], [115.7, 0.16], [115.4, 0.05], [115, 0.02], [114.8, 0.1], [114.6, 0.18], [114.4, -0.01], [114.2, -0.11],
  [114, 0.02], [113.9, 0.29], [113.7, 0.02], [113.5, -0.01], [113.3, 0.13], [113, 0.43], [112.8, -0.01], [112.6, 0.72],
  [112.4, 0.54], [112, 0.75], [111.7, 0.81], [111.3, 0.86], [111, 0.7], [110.7, 0.86], [110.4, 0.64], [110, 0.83], [109.7, 0.94],
  [109.5, 0.7], [109.2, 0.81], [109, 0.56], [108.9, 0.35], [108.6, 0.56], [108.5, 0.27], [108.2, 0.37], [108, 0.54], [107.9, -0.41],
  [107.7, -0.47], [107.4, -0.6], [107, -0.28], [106.9, -0.49], [106.6, -0.17], [106.4, -0.47], [106.2, -0.14], [106, -0.36],
  [105.9, -0.03], [105.8, 1.12], [105.5, 0.83], [105.3, 0.81], [105.1, 0.59], [105, 0.72], [104.8, 0.64], [104.6, 0.27],
  [104.5, -0.09], [104.3, 1.01], [104.1, 0.81], [103.9, 0.59], [103.7, 0.83], [103.5, 0.54], [103.3, 0.35], [103.1, -0.17],
  [102.9, -0.2], [102.7, 0.13], [102.5, 0.54], [102.2, 0.78], [102.1, 0.64], [101.9, 0.72], [101.7, 0.59], [101.4, 0.64],
  [101.1, 0.48], [100.8, 0.45], [100.5, 0.56], [100.3, 0.54], [100, 0.75], [99.7, 0.67], [99.3, 0.51], [99.1, 0.62], [98.9, 0.89],
  [98.7, 0.54], [98.4, 0.37], [98.2, 0.51], [97.9, 0.37], [97.7, 0.62], [97.5, 0.81], [97.2, 0.45], [96.9, 0.37], [96.7, 0.7],
  [96.4, 0.59], [96.2, 0.48], [96, 0.54], [95.8, 0.51], [95.6, 0.45], [95.4, 0.35], [95.2, 0.45], [94.9, 0.18], [94.8, 0.27],
  [94.6, 0.02], [94.4, 0.21], [94.2, 0.48], [94, 0.27], [93.8, 0.16], [93.6, 0.32], [93.4, 0.21], [93.2, 0.1], [93, -0.14],
  [92.8, 0.1], [92.6, 0.21], [92.4, 0.1], [92.1, 0.29], [91.9, 0.54], [91.7, 0.16], [91.5, 0.08], [91.3, 0.4], [91.1, 0.45],
  [90.9, 0.35], [90.7, 0.45], [90.4, 0.32], [90.3, 0.13], [90, 0.59], [89.9, 1.05], [89.7, 1.16], [89.5, 0.94], [89.3, 1.08],
  [89.1, 0.91], [88.9, 1.02], [88.7, 0.86], [88.5, 0.97], [88.3, 0.81], [88.1, 0.81], [87.9, 0.64], [87.7, 0.35], [87.5, -0.28],
  [87.3, -0.36], [87.1, -0.14], [86.9, -0.52], [86.7, -0.36], [86.4, -0.44], [86.2, -0.22], [86, 0.05], [85.8, -0.55],
  [85.6, -0.41], [85.4, -0.22], [85.2, -0.41], [85, -0.03], [84.9, -0.63], [84.7, 0.81], [84.6, 1.44], [84.4, 0.94], [84.2, 0.64],
  [84, 1.13], [83.8, 0.86], [83.6, 1.17], [83.4, 0.83], [83.2, 1.1], [83, 0.64], [82.8, 0.45], [82.6, 0.75], [82.4, 0.4],
  [82.1, 0.81], [81.8, 0.64], [81.5, 0.59], [81.3, 0.78], [81.1, 0.67], [80.9, 0.59], [80.7, 0.72], [80.5, 0.64], [80.3, 0.81],
  [80.1, 0.59], [79.8, 0.72], [79.6, 0.64], [79.4, 0.75], [79.2, 1.24], [79, 1.05], [78.8, 0.97], [78.6, 0.45], [78.4, 0.37],
  [78.2, 0.62], [78, 0.35], [77.8, -0.22], [77.6, -0.44], [77.4, -0.49], [77.2, -0.22], [77, -0.33], [76.8, -0.36], [76.6, -0.41],
  [76.4, 1.51], [76.2, 1.18], [75.9, 1.02], [75.7, 0.97], [75.5, 0.86], [75.3, 0.72], [75.1, 0.83], [74.9, 0.81], [74.7, 0.75],
  [74.4, 0.32], [74.2, 0.54], [74, -0.09], [73.9, -0.49], [73.7, -0.3], [73.5, -0.36], [73.3, -0.22], [73.1, -0.17], [72.9, -0.2],
  [72.6, -0.28], [72.4, 0.54], [72.2, 1.86], [72, 1.62], [71.8, 1.29], [71.6, 1.24], [71.3, 1.43], [71.1, 1.0], [70.9, 0.97],
  [70.7, 0.59], [70.5, 0.75], [70.3, 0.4], [70.1, 0.27], [69.9, 0.35], [69.7, 0.18], [69.6, 1.27], [69.3, 0.37], [69.1, 0.27],
  [68.9, 0.35], [68.7, 0.21], [68.5, 0.32], [68.3, 0.13], [68.1, 0.27], [67.9, 0.13], [67.7, 0.29], [67.4, 0.7], [67.3, 0.27],
  [67.1, 0.18], [66.9, 0.45], [66.7, 0.18], [66.4, 0.59], [66.2, 0.21], [66, 0.32], [65.8, 0.13], [65.6, 0.35], [65.4, 0.18],
  [65.2, 0.7], [65, 0.4], [64.8, 0.05], [64.5, -0.14], [64.3, 0.27], [64.1, 0.81], [64, 1.89], [63.7, 0.81], [63.5, 0.48],
  [63.3, 0.35], [63.1, 0.48], [62.9, 0.27], [62.7, 0.4], [62.4, 0.21], [62.1, 0.32], [61.7, 0.1], [61.5, 0.54], [61.3, 0.32],
  [61.1, 0.27], [60.9, 0.16], [60.7, 0.64], [60.5, 0.59], [60.3, 0.4], [60.1, 0.54], [60, 0.13], [59.75, 0.02], [59.6, 0.48],
  [59.4, 1.99], [59.2, 1.35], [59, 1.78], [58.9, 1.08], [58.7, 1.18], [58.5, -0.14], [58.3, -0.33], [58.2, 1.18], [58, 0.81],
  [57.8, 1.35], [57.6, 1.1], [57.4, 0.94], [57.1, 0.64], [56.9, 0.59], [56.7, 0.86], [56.5, 0.13], [56.3, -0.11], [56.1, -0.14],
  [56, -0.44], [55.7, 1.05], [55.5, 0.94], [55.3, -0.11], [55.1, -0.44], [55, 0.7], [54.75, -0.55], [54.5, -0.74], [54.3, -0.55],
  [54.1, 1.29], [54, 0.97], [53.8, 1.18], [53.6, 0.86], [53.3, 0.94], [53.1, 0.7], [52.9, 0.81], [52.7, 0.7], [52.5, 0.86],
  [52.3, 0.7], [52.1, 0.94], [51.9, 0.54], [51.7, 0.78], [51.5, 0.02], [51.3, 0.35], [51.2, 0.37], [50.95, 0.48], [50.7, 0.32],
  [50.5, 0.54], [50.3, 0.35], [50.1, 0.51], [49.9, 0.35], [49.7, 0.1], [49.5, -0.14], [49.2, 1.13], [49, 0.97], [48.8, 0.4],
  [48.6, 0.35], [48.4, -0.14], [48.3, -0.55], [48.1, -0.74], [47.9, -0.41], [47.8, -0.01], [47.6, -0.47], [47.4, 0.08],
  [47.2, -0.09], [47, -0.01], [46.9, 0.54], [46.7, 1.93], [46.5, 1.75], [46.4, 1.83], [46.2, 1.72], [46, 1.75], [45.8, 1.48],
  [45.6, 1.18], [45.4, 0.81], [45.2, 0.64], [45, 0.4], [44.75, 0.05], [44.5, 0.37], [44.3, -0.01], [44.2, -0.55], [44.1, -0.92],
  [44, -0.47], [43.8, -0.82], [43.6, -0.55], [43.5, -1.18], [43.4, -0.55], [43.3, 0.27], [43.1, 1.02], [43, 1.44], [42.8, 0.94],
  [42.6, 0.59], [42.4, 0.13], [42.1, -0.01], [42, -0.3], [41.8, -0.14], [41.65, -0.22], [41.4, 1.35], [41.3, 1.91], [41.2, 1.45],
  [40.95, 0.81], [40.7, -0.36], [40.6, -0.01], [40.4, 0.08], [40.2, 0.05], [40, 0.95], [39.8, -0.28], [39.6, -0.01], [39.4, -0.14],
  [39.2, -0.09], [39, -0.33], [38.8, 0.21], [38.6, 0.16], [38.5, 0.48], [38.3, 1.16], [38.1, 1.97], [37.9, 1.78], [37.8, 1.62],
  [37.5, 1.67], [37.3, 1.29], [37.1, 1.13], [36.9, 0.75], [36.7, 0.86], [36.5, 0.27], [36.3, -0.01], [36.1, 0.32], [35.9, -0.36],
  [35.6, 0.32], [35.5, 1.02], [35.3, 2.04], [35.1, 1.62], [34.9, 1.08], [34.75, 1.02], [34.5, 0.1], [34.3, -0.14], [34.1, -0.01],
  [33.9, -0.25], [33.7, 0.27], [33.6, 1.18], [33.4, 1.08], [33.2, -0.47], [33, -0.28], [32.8, -0.76], [32.6, -0.41], [32.4, 1.51],
  [32.1, 1.16], [31.9, 0.54], [31.7, -0.01], [31.5, 0.16], [31.3, 0.37], [31.1, 0.59], [30.9, 0.35], [30.7, 1.05], [30.5, 0.81],
  [30.3, 0.43], [30.1, 0.27], [29.9, 0.48], [29.7, -0.01], [29.5, 0.21], [29.3, -0.01], [29.05, 0.37], [28.8, 1.08], [28.7, 2.08],
  [28.55, 1.35], [28.35, 0.27], [28.1, -0.03], [28, -0.03], [27.85, 0.81], [27.7, 1.62], [27.6, 2.2], [27.5, 1.08], [27.4, 0.18],
  [27.2, 0.4], [27, 0.27], [26.8, 0.1], [26.6, 0.54], [26.4, 0.75], [26.2, 0.7], [25.95, 0.4], [25.7, 0.02], [25.5, 0.32],
  [25.3, 0.4], [25.1, 0.1], [24.9, 0.67], [24.7, 0.48], [24.5, 0.13], [24.3, 0.56], [24.1, 0.27], [23.9, 0.48], [23.7, 0.16],
  [23.5, 0.27], [23.3, 1.45], [23.1, 0.81], [22.85, 1.08], [22.6, 0.7], [22.4, 1.08], [22.2, 0.94], [22, 0.81], [21.8, 1.08],
  [21.6, 0.86], [21.4, 0.54], [21.2, 0.81], [21, 0.62], [20.8, 0.48], [20.6, 1.08], [20.4, 0.64], [20.2, 0.83], [20, 0.59],
  [19.75, 0.94], [19.5, 0.59], [19.3, 0.48], [19.1, 0.4], [18.9, 0.59], [18.7, 0.37], [18.5, 0.13], [18.3, 0.27], [18.1, -0.01],
  [17.9, -0.03], [17.7, 0.64], [17.5, 0.37], [17.3, 0.7], [17.1, 0.64], [16.9, 0.7], [16.65, 0.32], [16.4, 0.1], [16.2, -0.28],
  [16, -0.17], [15.8, -0.03], [15.6, -0.28], [15.4, -0.22], [15.2, -0.33], [15, -0.38], [14.8, -0.33], [14.6, 0.27], [14.5, 1.56],
  [14.3, 1.18], [14.05, 0.81], [13.8, 1.08], [13.6, 0.48], [13.4, 0.67], [13.2, -0.06], [13, 0.4], [12.8, -0.28], [12.6, -0.6],
  [12.4, -0.87], [12.2, -0.63], [12, -0.92], [11.8, -0.6], [11.6, 0.54], [11.4, 0.59], [11.2, 0.72], [11, 0.64], [10.8, 0.91],
  [10.6, 0.83], [10.4, 1.08], [10.2, 0.81], [10, 1.05], [9.8, 0.97], [9.55, 0.91], [9.3, 1.02], [9.1, 0.97], [8.9, 0.91],
  [8.7, 0.81], [8.5, 0.83], [8.3, 0.75], [8.1, 0.81], [7.85, 0.7], [7.6, 0.64], [7.4, 0.59], [7.2, 0.62], [7, 0.54], [6.8, 0.48],
  [6.6, 0.51], [6.4, 0.43], [6.2, 0.45], [6, 0.35], [5.8, 0.4], [5.6, 0.32], [5.4, 0.37], [5.2, 0.29], [4.95, 0.35], [4.75, 0.27],
  [4.5, 0.32], [4.3, 0.24], [4.1, 0.29], [3.9, 0.18], [3.7, 0.24], [3.5, 0.13], [3.3, 0.18], [3.1, 0.1], [2.9, 0.18], [2.7, 0.08],
  [2.5, 0.13], [2.3, 0.02], [2.05, 0.13], [1.85, -0.01], [1.65, 0.1], [1.45, 0.02], [1.25, 0.08], [1, -0.01], [0.8, 0.1],
  [0.6, -0.01], [0.4, -0.09], [0.2, -0.03], [0, -0.17],
]

const pts = (rows: number[][], k = 1) => rows.map((r) => ({ x: r[0], y: r[k] }))
const fmt = (digits: number) => (v: any) => {
  const n = Number(v)
  const s = Math.abs(n).toFixed(digits)
  return n < 0 ? "\u2212" + s : s
}
const tickFont = { family: SERIF, size: 58 }

function timeAxis(height: number, showLabels: boolean) {
  return {
    type: "linear",
    min: 0,
    max: 120,
    reverse: true,
    bounds: "data",
    afterBuildTicks: (s: any) => { s.ticks = timeTicks.map((value) => ({ value })) },
    afterFit: (s: any) => {
      s.height = height
      s.paddingLeft = 0
      s.paddingRight = 0
    },
    grid: { color: GRID, lineWidth: 2.5, tickLength: 16, tickColor: "#000", tickWidth: 3, tickBorderDash: [], borderDash: DASH },
    border: { display: false, dash: DASH },
    ticks: { display: showLabels, color: "#000", font: tickFont, padding: 29, maxRotation: 0, autoSkip: false, callback: fmt(0) },
  }
}

function valueAxis(position: string, min: number, max: number, ticks: number[], digits: number, width: number, onChart: boolean) {
  return {
    type: "linear",
    position,
    min,
    max,
    bounds: "data",
    afterBuildTicks: (s: any) => { s.ticks = ticks.map((value) => ({ value })) },
    afterFit: (s: any) => {
      s.width = width
      s.paddingTop = 0
      s.paddingBottom = 0
    },
    grid: {
      drawOnChartArea: onChart, color: GRID, lineWidth: 2.5, tickLength: 16, tickColor: "#000", tickWidth: 3,
      tickBorderDash: [], borderDash: DASH,
    },
    border: { display: false, dash: DASH },
    ticks: { color: "#000", font: tickFont, padding: position === "left" ? 23 : 25, autoSkip: false, callback: fmt(digits) },
  }
}

type LegendRow = { y: number; color: string; text: string; sup?: number }
type Decor = {
  label: string
  labelY: number
  titles: { text: string; x: number; y: number; rot: number }[]
  legend: LegendRow[]
  lineX: [number, number]
  textX: number
}

function decorPlugin(d: Decor) {
  return {
    id: "decor",
    afterDraw(chart: any) {
      const { ctx, chartArea: a } = chart
      ctx.save()
      ctx.strokeStyle = "#000"
      ctx.lineWidth = 3.5
      ctx.strokeRect(a.left, a.top, a.right - a.left, a.bottom - a.top)

      ctx.fillStyle = "#000"
      ctx.textAlign = "left"
      ctx.textBaseline = "alphabetic"
      ctx.font = `58px ${SERIF}`
      ctx.fillText(d.label, 248, d.labelY)

      for (const t of d.titles) {
        ctx.save()
        ctx.translate(t.x, t.y)
        ctx.rotate(t.rot)
        ctx.textAlign = "center"
        ctx.textBaseline = "middle"
        ctx.font = `60px ${SERIF}`
        ctx.fillStyle = "#000"
        ctx.fillText(t.text, 0, 0)
        ctx.restore()
      }

      for (const row of d.legend) {
        ctx.strokeStyle = row.color
        ctx.lineWidth = 5
        ctx.beginPath()
        ctx.moveTo(d.lineX[0], row.y)
        ctx.lineTo(d.lineX[1], row.y)
        ctx.stroke()
        ctx.fillStyle = row.color
        ctx.font = `60px ${SERIF}`
        ctx.fillText(row.text, d.textX, row.y + 14)
        if (row.sup !== undefined) {
          const w = ctx.measureText(row.text).width
          ctx.font = `36px ${SERIF}`
          ctx.fillText("*", d.textX + w + 2, row.y + 14 - row.sup)
        }
      }
      ctx.restore()
    },
  }
}

const baseOptions = {
  responsive: false,
  maintainAspectRatio: false,
  animation: false,
  events: [],
  plugins: { legend: { display: false }, tooltip: { enabled: false } },
}

function configA() {
  return {
    type: "line",
    data: {
      datasets: [
        { data: pts(seaLevel), yAxisID: "ySL", borderColor: "#ff0000", borderWidth: 7, pointRadius: 0, order: 0 },
        { data: pts(deltaT), yAxisID: "yT", borderColor: "#333333", borderWidth: 3, pointRadius: 0, order: 1 },
        {
          data: pts(seaBand, 1), yAxisID: "ySL", borderWidth: 0, pointRadius: 0, order: 2,
          fill: "+1", backgroundColor: "rgba(255,0,0,0.3)",
        },
        { data: pts(seaBand, 2), yAxisID: "ySL", borderWidth: 0, pointRadius: 0, order: 3, fill: false },
      ],
    },
    options: {
      ...baseOptions,
      layout: { padding: { top: 37, left: 0, right: 0, bottom: 0 } },
      scales: {
        x: timeAxis(17, false),
        yT: valueAxis("left", -25, 5, tempTicks, 0, 230, true),
        ySL: valueAxis("right", -140, 10, seaTicks, 0, 244, false),
      },
    },
    plugins: [
      decorPlugin({
        label: "(a)",
        labelY: 620,
        titles: [
          { text: "\u0394T (\u00b0C)", x: 61, y: 340, rot: -Math.PI / 2 },
          { text: "Sea level (m)", x: 2015, y: 340, rot: -Math.PI / 2 },
        ],
        legend: [],
        lineX: [0, 0],
        textX: 0,
      }),
    ],
  }
}

function configB() {
  return {
    type: "line",
    data: {
      datasets: [
        {
          data: pts(alphaStar), borderColor: "#0000ff", borderWidth: 6, pointRadius: 0, order: 0,
          cubicInterpolationMode: "monotone",
        },
        { data: pts(gamma), borderColor: "#808080", borderWidth: 3, pointRadius: 0, order: 1 },
        {
          data: pts(alpha), borderColor: "rgba(184,134,11,0.5)", borderWidth: 5, pointRadius: 0, order: 2,
          cubicInterpolationMode: "monotone",
        },
      ],
    },
    options: {
      ...baseOptions,
      layout: { padding: { top: 24, left: 0, right: 244, bottom: 0 } },
      scales: {
        x: timeAxis(17, false),
        y: valueAxis("left", -0.5, 1.7, indexTicksB, 1, 230, true),
      },
    },
    plugins: [
      decorPlugin({
        label: "(b)",
        labelY: 601,
        titles: [{ text: "Index", x: 68, y: 325, rot: -Math.PI / 2 }],
        legend: [
          { y: 81, color: "#808080", text: "\u03b3" },
          { y: 139, color: "#b8860b", text: "\u03b1" },
          { y: 198, color: "#0000ff", text: "\u03b1", sup: 12 },
        ],
        lineX: [273, 318],
        textX: 362,
      }),
    ],
  }
}

function configC() {
  return {
    type: "line",
    data: {
      datasets: [
        { data: pts(betaStar), borderColor: "#0000ff", borderWidth: 3.2, pointRadius: 0, order: 0 },
        { data: pts(beta), borderColor: "#b8860b", borderWidth: 3, pointRadius: 0, order: 1 },
      ],
    },
    options: {
      ...baseOptions,
      layout: { padding: { top: 27, left: 0, right: 244, bottom: 0 } },
      scales: {
        x: timeAxis(201, true),
        y: valueAxis("left", -1.5, 2.5, indexTicksC, 0, 230, true),
      },
    },
    plugins: [
      decorPlugin({
        label: "(c)",
        labelY: 607,
        titles: [
          { text: "Index", x: 68, y: 328, rot: -Math.PI / 2 },
          { text: "Time (ka BP)", x: 1026, y: 782, rot: 0 },
        ],
        legend: [
          { y: 92, color: "#b8860b", text: "\u03b2" },
          { y: 157, color: "#0000ff", text: "\u03b2", sup: 20 },
        ],
        lineX: [277, 329],
        textX: 380,
      }),
    ],
  }
}

function PanelChart({ top, height, makeConfig }: { top: number; height: number; makeConfig: () => any }) {
  const canvasRef = useRef<HTMLCanvasElement>(null)

  useEffect(() => {
    if (!canvasRef.current) return
    const chart = new Chart(canvasRef.current, makeConfig())
    return () => {
      chart.destroy()
    }
  }, [makeConfig])

  return (
    <canvas
      ref={canvasRef}
      width={W}
      height={height}
      style={{ position: "absolute", left: 0, top, width: W, height }}
    />
  )
}

export default function App() {
  return (
    <div style={{ position: "absolute", left: 0, top: 0, width: W, height: 2134, background: "#fff" }}>
      <PanelChart top={0} height={660} makeConfig={configA} />
      <PanelChart top={660} height={643} makeConfig={configB} />
      <PanelChart top={1303} height={831} makeConfig={configC} />
    </div>
  )
}
